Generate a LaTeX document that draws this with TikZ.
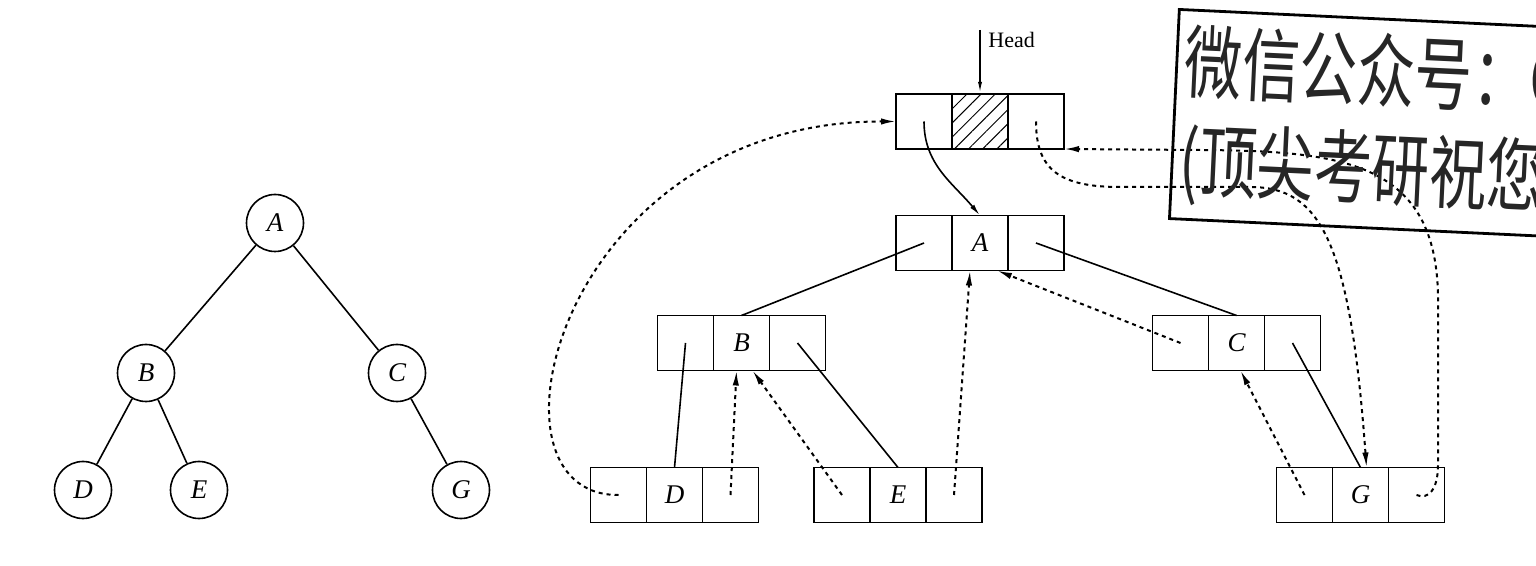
\documentclass[tikz,border=0pt]{standalone}
\usepackage{fontspec}
\setmainfont{Liberation Serif}
\newfontfamily\wmfont[FakeStretch=0.72]{Noto Sans CJK SC}
\usetikzlibrary{positioning,calc,arrows.meta,patterns.meta}

\begin{document}
\begin{tikzpicture}[x=0.5pt,y=0.5pt,
    tnode/.style={circle,draw,line width=0.8pt,minimum size=28.5pt,inner sep=0pt,font=\fontsize{13.5}{16}\selectfont\itshape},
    cell/.style={draw,line width=0.8pt,minimum width=28pt,minimum height=27.5pt,inner sep=0pt,outer sep=0pt,font=\fontsize{13.5}{16}\selectfont\itshape},
    link/.style={line width=0.8pt},
    thread/.style={line width=1pt,dash pattern=on 2pt off 2pt,-{Latex[length=7.5pt,width=3.2pt]}},
    wmbox/.style={draw,line width=1.4pt,rotate=-2.7,anchor=north west,align=left,text width=240pt,inner xsep=4pt,inner ysep=7pt,text=black!85,font=\wmfont\fontsize{40}{49}\selectfont}]
    \useasboundingbox (0,-566) rectangle (1536,0);

    % binary tree
    \node[tnode] (tA) at (275,-223) {A};
    \node[tnode] (tB) at (146,-373) {B};
    \node[tnode] (tC) at (397,-373) {C};
    \node[tnode] (tD) at (83,-490) {D};
    \node[tnode] (tE) at (199,-490) {E};
    \node[tnode] (tG) at (461,-490) {G};
    \draw[link] (tA) -- (tB);
    \draw[link] (tA) -- (tC);
    \draw[link] (tB) -- (tD);
    \draw[link] (tB) -- (tE);
    \draw[link] (tC) -- (tG);

    % threaded tree, three cells per node
    \node[cell,pattern={Lines[angle=45,distance=5pt,line width=0.5pt]}] (Hd) at (980,-121.5) {};
    \node[cell,left=0pt of Hd] (Hl) {};
    \node[cell,right=0pt of Hd] (Hr) {};

    \node[cell] (Ad) at (980,-243) {A};
    \node[cell,left=0pt of Ad] (Al) {};
    \node[cell,right=0pt of Ad] (Ar) {};

    \node[cell] (Bd) at (741.5,-343) {B};
    \node[cell,left=0pt of Bd] (Bl) {};
    \node[cell,right=0pt of Bd] (Br) {};

    \node[cell] (Cd) at (1236.5,-343) {C};
    \node[cell,left=0pt of Cd] (Cl) {};
    \node[cell,right=0pt of Cd] (Cr) {};

    \node[cell] (Dd) at (674.5,-495) {D};
    \node[cell,left=0pt of Dd] (Dl) {};
    \node[cell,right=0pt of Dd] (Dr) {};

    \node[cell] (Ed) at (898,-495) {E};
    \node[cell,left=0pt of Ed] (El) {};
    \node[cell,right=0pt of Ed] (Er) {};

    \node[cell] (Gd) at (1360.5,-495) {G};
    \node[cell,left=0pt of Gd] (Gl) {};
    \node[cell,right=0pt of Gd] (Gr) {};

    % head pointer
    \coordinate (headtop) at (980,-30);
    \node[anchor=north west,inner sep=0pt,font=\fontsize{11}{13}\selectfont] (headlbl) at (988,-32) {Head};
    \draw[link,-{Latex[length=6pt,width=2pt]}] (headtop) -- (Hd.north);

    % child links
    \draw[link,-{Latex[length=6pt,width=2.5pt]}] (Hl.center) to[out=-90,in=130] (Ad.north);
    \draw[link] (Al.center) -- (Bd.north);
    \draw[link] (Ar.center) -- (Cd.north);
    \draw[link] (Bl.center) -- (Dd.north);
    \draw[link] (Br.center) -- (Ed.north);
    \draw[link] (Cr.center) -- (Gd.north);

    % threads
    \draw[thread] (Dl.center) .. controls (470,-496) and (560,-121) .. (Hl.west);
    \draw[thread] (Dr.center) -- ([xshift=-2.5pt]Bd.south);
    \draw[thread] (El.center) -- ([xshift=5.5pt]Bd.south);
    \draw[thread] (Er.center) -- ([xshift=-5pt]Ad.south);
    \draw[thread] (Cl.center) -- ([xshift=8.5pt]Ad.south);
    \draw[thread] (Gl.center) -- ([xshift=2pt]Cd.south);
    \draw[thread] (Hr.center) .. controls (1036,-170) and (1060,-187) .. (1120,-187) -- (1250,-187) .. controls (1320,-187) and (1350,-240) .. ([xshift=3pt]Gd.north);
    \draw[thread] (Gr.center) .. controls (1428,-500) and (1438,-490) .. (1438,-465) -- (1438,-300) .. controls (1438,-160) and (1340,-151) .. (1200,-150) -- (Hr.south east);

    % watermark
    \node[wmbox] (wm) at (1178,-8) {微信公众号：C\\(顶尖考研祝您};
\end{tikzpicture}
\end{document}
